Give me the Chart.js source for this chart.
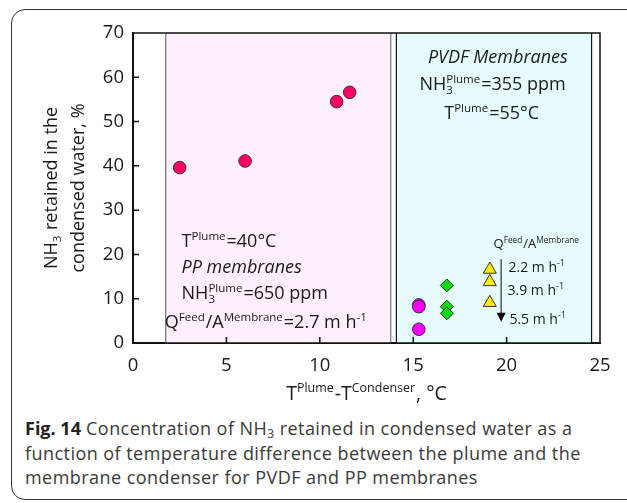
<!DOCTYPE html>
<html lang="en">
<head>
    <meta charset="UTF-8">
    <title>Fig. 14 NH3 retained in condensed water</title>
    <script src="https://cdn.jsdelivr.net/npm/chart.js"></script>
    <style>
        body { margin: 0; background: #fff; width: 627px; height: 503px; overflow: hidden; position: relative; font-family: 'Open Sans', sans-serif; }
        #frame { position: absolute; left: 11px; top: 9px; width: 660px; height: 489px; border: 1.5px solid #333; border-radius: 14px; }
        #chart-box { position: absolute; left: 0; top: 0; width: 627px; height: 410px; }
        #caption { position: absolute; left: 25px; top: 416px; width: 600px; white-space: nowrap; font-size: 18px; line-height: 24.5px; letter-spacing: 0.45px; color: #3a3a3a; }
        #caption b { font-weight: 700; color: #222; letter-spacing: 0; }
        #caption sub { font-size: 12px; line-height: 0; vertical-align: baseline; position: relative; top: 3px; }
    </style>
</head>
<body>
    <div id="frame"></div>
    <div id="chart-box"><canvas id="nh3Chart"></canvas></div>
    <div id="caption"><b>Fig. 14</b> Concentration of NH<sub>3</sub> retained in condensed water as a<br>function of temperature difference between the plume and the<br>membrane condenser for PVDF and PP membranes</div>

    <script>
        // data: x = T plume - T condenser (°C), y = NH3 retained (%)
        const ppX = [2.5, 6.0, 10.9, 11.6];
        const ppY = [39.6, 41.1, 54.5, 56.6];
        const pvdfCircleX = [15.3, 15.3, 15.3];
        const pvdfCircleY = [8.6, 8.2, 3.1];
        const pvdfDiamondX = [16.8, 16.8, 16.8];
        const pvdfDiamondY = [13.0, 8.2, 6.7];
        const pvdfTriangleX = [19.1, 19.1, 19.1];
        const pvdfTriangleY = [16.6, 13.8, 9.1];
        const xTicks = [0, 5, 10, 15, 20, 25];
        const yTicks = [0, 10, 20, 30, 40, 50, 60, 70];

        const FONT = "'Open Sans', sans-serif";
        const TEXT = '#1a1a1a';
        const fnt = (size, italic) => (italic ? 'italic ' : '') + size + 'px ' + FONT;

        const pts = (xs, ys) => xs.map((x, i) => ({ x: x, y: ys[i] }));

        // text with sup/sub parts, y is the baseline
        function rich(ctx, parts, x, y, size, align, italic) {
            const small = size * 0.64;
            const run = (x0, draw) => {
                let cx = x0;
                for (const p of parts) {
                    if (typeof p === 'string') {
                        ctx.font = fnt(size, italic);
                        if (draw) ctx.fillText(p, cx, y);
                        cx += ctx.measureText(p).width;
                    } else {
                        ctx.font = fnt(small, false);
                        let w = 0;
                        if (p.sup) {
                            if (draw) ctx.fillText(p.sup, cx, y - size * 0.4);
                            w = Math.max(w, ctx.measureText(p.sup).width);
                        }
                        if (p.sub) {
                            if (draw) ctx.fillText(p.sub, cx, y + size * 0.24);
                            w = Math.max(w, ctx.measureText(p.sub).width);
                        }
                        cx += w + 1;
                    }
                }
                return cx - x0;
            };
            ctx.textAlign = 'left';
            ctx.textBaseline = 'alphabetic';
            const w = run(x, false);
            const x0 = align === 'center' ? x - w / 2 : x;
            run(x0, true);
        }

        const backdrop = {
            id: 'backdrop',
            beforeDatasetsDraw(chart) {
                const { ctx, scales: { x, y } } = chart;
                const top = y.getPixelForValue(70), bot = y.getPixelForValue(0);
                ctx.save();
                // PP region
                let l = x.getPixelForValue(1.75), r = x.getPixelForValue(13.8);
                ctx.fillStyle = '#fdf0fc';
                ctx.fillRect(l, top, r - l, bot - top);
                ctx.strokeStyle = '#777';
                ctx.lineWidth = 1.2;
                ctx.beginPath();
                ctx.moveTo(l, top); ctx.lineTo(l, bot);
                ctx.moveTo(r, top); ctx.lineTo(r, bot);
                ctx.stroke();
                // PVDF region
                l = x.getPixelForValue(14.1); r = x.getPixelForValue(24.55);
                ctx.fillStyle = '#e6fcfc';
                ctx.fillRect(l, top, r - l, bot - top);
                ctx.strokeStyle = '#111';
                ctx.beginPath();
                ctx.moveTo(l, top); ctx.lineTo(l, bot);
                ctx.moveTo(r, top); ctx.lineTo(r, bot);
                ctx.stroke();
                // plot frame
                ctx.strokeStyle = '#111';
                ctx.lineWidth = 1.5;
                ctx.strokeRect(x.left, top, x.right - x.left, bot - top);
                // inward ticks
                ctx.beginPath();
                xTicks.slice(1, -1).forEach(v => {
                    const px = x.getPixelForValue(v);
                    ctx.moveTo(px, bot); ctx.lineTo(px, bot - 6);
                });
                yTicks.slice(1, -1).forEach(v => {
                    const py = y.getPixelForValue(v);
                    ctx.moveTo(x.left, py); ctx.lineTo(x.left + 6, py);
                });
                ctx.stroke();
                ctx.restore();
            }
        };

        const notes = {
            id: 'notes',
            afterDatasetsDraw(chart) {
                const { ctx, scales: { x, y } } = chart;
                const at = (vx, vy) => [x.getPixelForValue(vx), y.getPixelForValue(vy)];
                ctx.save();
                ctx.fillStyle = TEXT;
                let p;
                // PVDF block
                p = at(19.53, 64.6); rich(ctx, ['PVDF Membranes'], p[0], p[1] + 6.5, 18, 'center', true);
                p = at(19.25, 58.6); rich(ctx, ['NH', { sub: '3', sup: 'Plume' }, '=355 ppm'], p[0], p[1] + 6.5, 18, 'center');
                p = at(19.2, 52); rich(ctx, ['T', { sup: 'Plume' }, '=55°C'], p[0], p[1] + 6.5, 18, 'center');
                // PP block
                p = at(2.6, 23.2); rich(ctx, ['T', { sup: 'Plume' }, '=40°C'], p[0], p[1] + 6.5, 18, 'left');
                p = at(2.6, 17.2); rich(ctx, ['PP membranes'], p[0], p[1] + 6.5, 18, 'left', true);
                p = at(2.6, 11.4); rich(ctx, ['NH', { sub: '3', sup: 'Plume' }, '=650 ppm'], p[0], p[1] + 6.5, 18, 'left');
                p = at(1.7, 4.8); rich(ctx, ['Q', { sup: 'Feed' }, '/A', { sup: 'Membrane' }, '=2.7 m h', { sup: '-1' }], p[0], p[1] + 6.5, 18, 'left');
                // flux legend
                p = at(19.3, 22.5); rich(ctx, ['Q', { sup: 'Feed' }, '/A', { sup: 'Membrane' }], p[0], p[1] + 4.8, 13, 'left');
                p = at(20.1, 17.2); rich(ctx, ['2.2 m h', { sup: '-1' }], p[0], p[1] + 5, 14, 'left');
                p = at(20.05, 12.0); rich(ctx, ['3.9 m h', { sup: '-1' }], p[0], p[1] + 5, 14, 'left');
                p = at(20.15, 5.4); rich(ctx, ['5.5 m h', { sup: '-1' }], p[0], p[1] + 5, 14, 'left');
                // arrow
                const a = at(19.71, 18.9), b = at(19.71, 4.8);
                ctx.strokeStyle = '#555';
                ctx.lineWidth = 1.5;
                ctx.beginPath(); ctx.moveTo(a[0], a[1]); ctx.lineTo(b[0], b[1] - 7); ctx.stroke();
                ctx.fillStyle = '#000';
                ctx.beginPath();
                ctx.moveTo(b[0] - 4.5, b[1] - 9); ctx.lineTo(b[0] + 4.5, b[1] - 9); ctx.lineTo(b[0], b[1]);
                ctx.closePath(); ctx.fill();
                // axis titles
                ctx.fillStyle = TEXT;
                rich(ctx, ['T', { sup: 'Plume' }, '-T', { sup: 'Condenser' }, ', °C'], (x.left + x.right) / 2, 400, 19.5, 'center');
                const cy = (y.top + y.bottom) / 2;
                ctx.save();
                ctx.translate(57, cy); ctx.rotate(-Math.PI / 2);
                rich(ctx, ['NH', { sub: '3' }, ' retained in the'], 0, 0, 18, 'center');
                ctx.restore();
                ctx.save();
                ctx.translate(84, cy); ctx.rotate(-Math.PI / 2);
                rich(ctx, ['condensed water, %'], 0, 0, 18, 'center');
                ctx.restore();
                ctx.restore();
            }
        };

        const mk = (data, style, color, radius) => ({
            data: data,
            pointStyle: style,
            backgroundColor: color,
            borderColor: '#333',
            borderWidth: 1,
            pointRadius: radius,
            pointHoverRadius: radius
        });

        new Chart(document.getElementById('nh3Chart'), {
            type: 'scatter',
            data: {
                datasets: [
                    mk(pts(ppX, ppY), 'circle', '#ff0066', 6.3),
                    mk(pts(pvdfCircleX, pvdfCircleY), 'circle', '#ff00ff', 6.3),
                    mk(pts(pvdfDiamondX, pvdfDiamondY), 'rectRot', '#00dd00', 6.5),
                    mk(pts(pvdfTriangleX, pvdfTriangleY), 'triangle', '#ffee00', 7.5)
                ]
            },
            options: {
                responsive: true,
                maintainAspectRatio: false,
                animation: false,
                layout: { padding: { top: 33, right: 27, left: 0, bottom: 0 } },
                plugins: { legend: { display: false }, tooltip: { enabled: false } },
                scales: {
                    x: {
                        type: 'linear', min: 0, max: 25,
                        afterFit: s => { s.height = 67; },
                        afterBuildTicks: s => { s.ticks = xTicks.map(v => ({ value: v })); },
                        grid: { display: false, drawTicks: false },
                        border: { display: true, color: '#111', width: 2 },
                        ticks: { padding: 12, color: TEXT, font: { family: FONT, size: 18.5 } }
                    },
                    y: {
                        type: 'linear', min: 0, max: 70,
                        afterFit: s => { s.width = 133; },
                        afterBuildTicks: s => { s.ticks = yTicks.map(v => ({ value: v })); },
                        grid: { display: false, drawTicks: false },
                        border: { display: true, color: '#111', width: 2 },
                        ticks: { padding: 9, color: TEXT, font: { family: FONT, size: 18.5 } }
                    }
                }
            },
            plugins: [backdrop, notes]
        });
    </script>
</body>
</html>
